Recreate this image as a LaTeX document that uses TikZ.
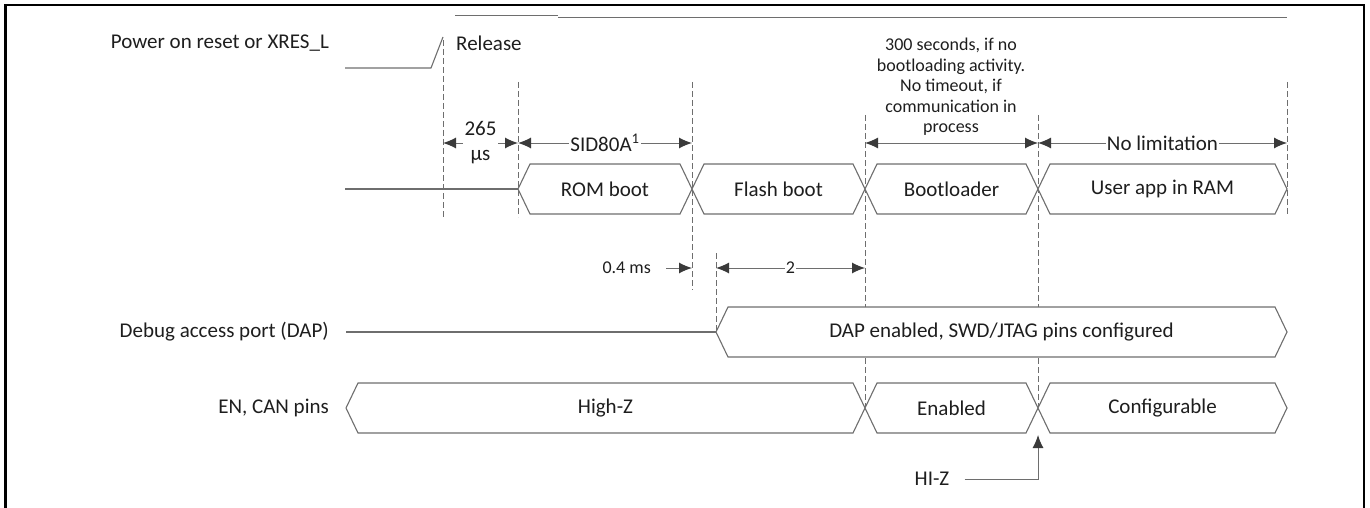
\documentclass[tikz,border=0pt]{standalone}
\usepackage{fontspec}
\setmainfont{Carlito}
\usetikzlibrary{arrows.meta}

\definecolor{wire}{HTML}{6E6E6E}
\definecolor{ink}{HTML}{1E1E1E}
\definecolor{tipc}{HTML}{3A3A3A}

\tikzset{
  sig/.style={draw=wire, line width=1.1pt},
  guide/.style={draw=wire, line width=0.9pt, dash pattern=on 6pt off 3pt},
  dim/.style={draw=wire, line width=1pt,
    {Latex[length=13pt,width=11pt,color=tipc]}-{Latex[length=13pt,width=11pt,color=tipc]}},
  onearrow/.style={draw=wire, line width=1pt, -{Latex[length=13pt,width=11pt,color=tipc]}},
  lbl/.style={text=ink, font=\fontsize{21}{25}\selectfont, inner sep=1pt},
  note/.style={text=ink, font=\fontsize{18}{20.5}\selectfont, inner sep=1pt},
}

% bus box: left x, right x, mid y, name, text
\newcommand{\busbox}[5]{%
  \draw[sig, fill=white] (#1,#3) -- (#1+12,#3-25) -- (#2-12,#3-25) -- (#2,#3)
    -- (#2-12,#3+25) -- (#1+12,#3+25) -- cycle;
  \node[lbl] (#4) at ({(#1+#2)/2},#3) {#5};}

\begin{document}
\begin{tikzpicture}[x=1pt,y=-1pt]
             \useasboundingbox (0,0) rectangle (1370,508);
             \draw[black, line width=2.5pt] (5.5,512) -- (5.5,5) -- (1364,5) -- (1364,512);
             \draw[wire, line width=1pt] (455,16) -- (558,16);
             \draw[wire, line width=1pt] (558,18) -- (1287,18);

             % signal names
             \node[lbl, anchor=east] (por) at (330,43) {Power on reset or XRES\_L};
             \node[lbl, anchor=east] (dapname) at (330,332) {Debug access port (DAP)};
             \node[lbl, anchor=east] (enname) at (330,408) {EN, CAN pins};
             \node[lbl, anchor=west] (release) at (455,43) {Release};

             % reset line
             \draw[sig] (345,68) -- (431,68) -- (443,37);

             % guides
             \draw[guide] (443,40) -- (443,217);
             \draw[guide] (518,82) -- (518,217);
             \draw[guide] (692,82) -- (692,290);
             \draw[guide] (716,253) -- (716,332);
             \draw[guide] (865,115) -- (865,408);
             \draw[guide] (1038,115) -- (1038,408);
             \draw[guide] (1287,82) -- (1287,215);

             % boot phases
             \draw[sig] (345,189) -- (518,189);
             \busbox{518}{692}{189}{rom}{ROM boot}
             \busbox{692}{865}{189}{flash}{Flash boot}
             \busbox{865}{1038}{189}{boot}{Bootloader}
             \busbox{1038}{1287}{189}{app}{User app in RAM}

             % DAP
             \draw[sig] (346,332) -- (716,332);
             \busbox{716}{1287}{332}{dapon}{DAP enabled, SWD/JTAG pins configured}

             % EN, CAN
             \busbox{346}{865}{408}{highz}{High-Z}
             \busbox{865}{1038}{408}{enab}{Enabled}
             \busbox{1038}{1287}{408}{config}{Configurable}

             % timing
             \coordinate (d0) at (443,143);
             \coordinate (d1) at (518,143);
             \coordinate (d2) at (692,143);
             \coordinate (d3) at (865,143);
             \coordinate (d4) at (1038,143);
             \coordinate (d5) at (1287,143);
             \draw[dim] (d0) -- (d1) node[midway, lbl, fill=white, align=center, inner xsep=2pt] (t265) {265\\µs};
             \draw[dim] (d1) -- (d2) node[midway, lbl, fill=white] (sid) {SID80A\textsuperscript{1}};
             \draw[dim] (d3) -- (d4);
             \node[note, align=center, anchor=south] (tmo) at (951,137) {300 seconds, if no\\bootloading activity.\\No timeout, if\\communication in\\process};
             \draw[dim] (d4) -- (d5) node[midway, lbl, fill=white] (nolim) {No limitation};

             \coordinate (e1) at (692,268);
             \coordinate (e2) at (716,268);
             \coordinate (e3) at (865,268);
             \node[note, anchor=east] (t04) at (652,268) {0.4 ms};
             \draw[onearrow] ([xshift=14pt]t04.east) -- (e1);
             \draw[dim] (e2) -- (e3) node[midway, note, fill=white] (two) {2};

             % HI-Z
             \coordinate (hizup) at (1038,435);
             \node[lbl] (hiz) at (932,479) {HI-Z};
             \draw[onearrow] ([xshift=14pt]hiz.east) -- (hiz.east -| hizup) -- (hizup);
\end{tikzpicture}
\end{document}
